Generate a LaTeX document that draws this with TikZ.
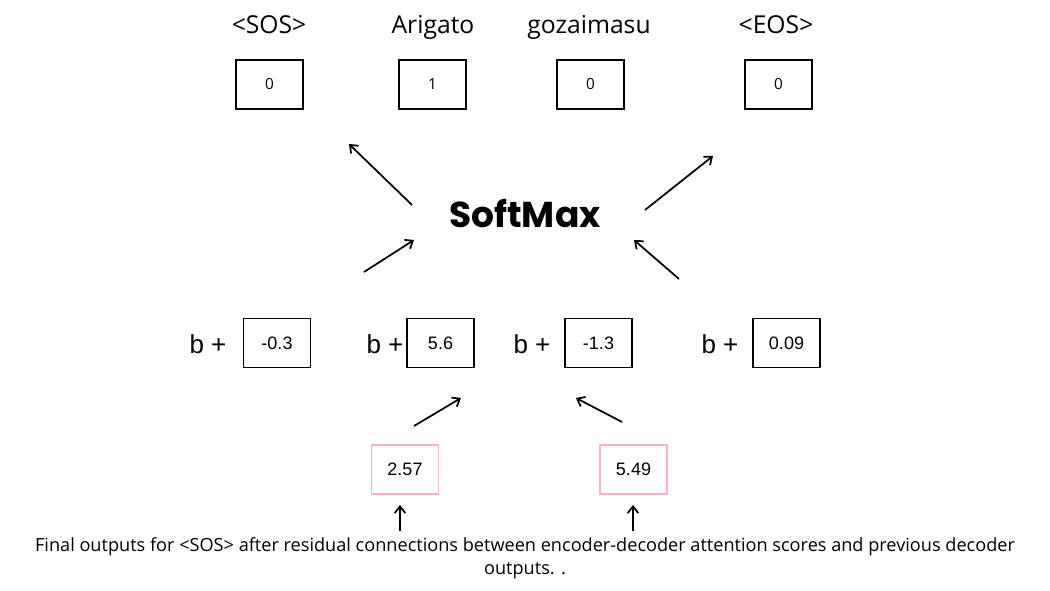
\documentclass[tikz,border=0pt]{standalone}
\usepackage{fontspec}
\setmainfont{Liberation Sans}
\newfontfamily\plex{Open Sans}
\newfontfamily\popb{Poppins}[UprightFont=* Bold]
\newfontfamily\capfont{Open Sans}
\usetikzlibrary{arrows.meta}
\definecolor{pinkbox}{RGB}{250,180,192}
\tikzset{
  arr/.style={line width=1.3pt,-{Straight Barb[length=5pt,width=8pt,line width=1.3pt]}},
  topbox/.style={draw=black,line width=1.2pt,minimum width=50pt,minimum height=37pt,font=\plex\fontsize{11.5}{13}\selectfont,inner sep=0pt},
  midbox/.style={draw=black,line width=1.2pt,minimum width=50pt,minimum height=37pt,font=\fontsize{13.5}{15}\selectfont,inner sep=0pt},
  pbox/.style={draw=pinkbox,line width=1.2pt,minimum width=50pt,minimum height=37pt,font=\fontsize{13.5}{15}\selectfont,inner sep=0pt},
  toplab/.style={font=\plex\fontsize{18.5}{20}\selectfont,inner sep=0pt,anchor=base},
  blab/.style={font=\fontsize{19.5}{21}\selectfont,inner sep=0pt},
}
\begin{document}
\begin{tikzpicture}[x=0.75pt,y=-0.75pt]
\useasboundingbox (0,0) rectangle (1050,591);
% top labels
\node[toplab] (l1) at (269,34) {<SOS>};
\node[toplab] (l2) at (433,34) {Arigato};
\node[toplab] (l3) at (589,34) {gozaimasu};
\node[toplab] (l4) at (776,34) {<EOS>};
% top boxes
\node[topbox] (t1) at (269.5,84.5) {0};
\node[topbox] (t2) at (432.5,84.5) {1};
\node[topbox] (t3) at (590.5,84.5) {0};
\node[topbox] (t4) at (778.5,84.5) {0};
% softmax
\node[font=\popb\fontsize{27}{30}\selectfont,inner sep=0pt] (sm) at (525,214) {SoftMax};
% middle row
\node[blab] (b1) at (208,344) {b +};
\node[midbox] (m1) at (277,343) {-0.3};
\node[blab] (b2) at (385,344) {b +};
\node[midbox] (m2) at (440.5,343) {5.6};
\node[blab] (b3) at (532,344) {b +};
\node[midbox] (m3) at (598.5,343) {-1.3};
\node[blab] (b4) at (720,344) {b +};
\node[midbox] (m4) at (786.5,343) {0.09};
% pink boxes
\node[pbox] (p1) at (405,469.5) {2.57};
\node[pbox] (p2) at (633.5,469.5) {5.49};
% caption
\node[font=\capfont\fontsize{13.6}{17.5}\selectfont,align=center,inner sep=0pt] (cap) at (525,558)
  {Final outputs for <SOS> after residual connections between encoder-decoder attention scores and previous decoder\\outputs. .};
% arrow endpoints
\coordinate (a1s) at (412,205); \coordinate (a1e) at (349,144);
\coordinate (a2s) at (645,210); \coordinate (a2e) at (713,156);
\coordinate (a3s) at (364,272); \coordinate (a3e) at (414,240);
\coordinate (a4s) at (679,279); \coordinate (a4e) at (634,240);
\coordinate (a5s) at (414,426); \coordinate (a5e) at (461,398);
\coordinate (a6s) at (622,422); \coordinate (a6e) at (576,398);
\coordinate (a7s) at (400,531); \coordinate (a7e) at (400,505);
\coordinate (a8s) at (633,531); \coordinate (a8e) at (633,505);
\foreach \i in {1,...,8} \draw[arr] (a\i s) -- (a\i e);
\end{tikzpicture}
\end{document}
